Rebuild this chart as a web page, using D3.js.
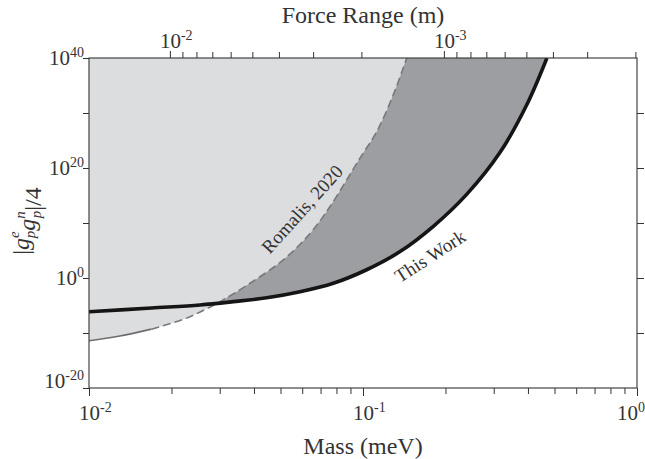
<!DOCTYPE html>
<html lang="en">
<head>
<meta charset="UTF-8">
<title>Force range vs mass</title>
<script src="https://d3js.org/d3.v7.min.js"></script>
<style>
  body { margin: 0; background: #fff; }
  text { font-family: "Liberation Serif", "Times New Roman", serif; fill: #333; }
  .axis path, .axis line { stroke: #333; }
</style>
</head>
<body>
<div id="chart"></div>
<script>
// mass (meV) and log10(|gp^e gp^n|/4)
var massThis = [0.01, 0.0169, 0.0254, 0.0336, 0.0445, 0.0589, 0.0779, 0.1031, 0.1365, 0.1806, 0.239, 0.316, 0.396, 0.469];
var logThis = [-6.15, -5.45, -4.9, -4.3, -3.6, -2.5, -0.96, 1.5, 4.8, 9.4, 15.2, 22.8, 31.5, 40];

var massRomalis = [0.01, 0.0128, 0.0169, 0.0224, 0.0269, 0.0301, 0.0387, 0.0512, 0.0641, 0.0758, 0.0975, 0.1122, 0.129, 0.1444];
var logRomalis = [-11.4, -10.6, -9.3, -7.4, -5.6, -4.3, -0.96, 3.3, 8.1, 13, 21.8, 26.6, 33.3, 40];

// tick labels
var massTicks = [0.01, 0.1, 1];
var massExp = ["-2", "-1", "0"];
var couplingTicks = [1e-20, 1, 1e20, 1e40];
var couplingExp = ["-20", "0", "20", "40"];
var couplingMinor = [1e-10, 1e10, 1e30];
var rangeTicks = [1e-2, 1e-3];
var rangeExp = ["-2", "-3"];

var hbarc = 1.97327e-4; // lambda (m) = hbarc / mass (meV)
var solidUntil = 0.0169; // Romalis line is solid up to here, dashed after

var width = 645, height = 459;
var margin = { top: 58, right: 8, bottom: 71, left: 89 };
var W = width - margin.left - margin.right;
var H = height - margin.top - margin.bottom;

var svg = d3.select("#chart").append("svg")
    .attr("width", width)
    .attr("height", height);

var g = svg.append("g").attr("transform", "translate(" + margin.left + "," + margin.top + ")");

var x = d3.scaleLog().domain([0.01, 1]).range([0, W]);
var y = d3.scaleLog().domain([1e-20, 1e40]).range([H, 0]);
var xTop = d3.scaleLog().domain([hbarc / 0.01, hbarc / 1]).range([0, W]);

g.append("clipPath").attr("id", "plot")
    .append("rect").attr("width", W).attr("height", H);

function pts(ms, vs) {
    return ms.map(function (m, i) { return { m: m, v: vs[i] }; });
}
var thisWork = pts(massThis, logThis);
var romalis = pts(massRomalis, logRomalis);

var curve = d3.curveCatmullRom.alpha(0.5);

var area = d3.area()
    .x(function (d) { return x(d.m); })
    .y0(0)
    .y1(function (d) { return y(Math.pow(10, d.v)); })
    .curve(curve);

var line = d3.line()
    .x(function (d) { return x(d.m); })
    .y(function (d) { return y(Math.pow(10, d.v)); })
    .curve(curve);

var plot = g.append("g").attr("clip-path", "url(#plot)");

// excluded by this work (dark), then excluded by Romalis (light) on top
plot.append("path").datum(thisWork).attr("d", area).attr("fill", "#9d9ea2");
plot.append("path").datum(romalis).attr("d", area).attr("fill", "#dcdddf");

plot.append("path")
    .datum(romalis.filter(function (d) { return d.m <= solidUntil; }))
    .attr("d", line)
    .attr("fill", "none")
    .attr("stroke", "#6e6e70")
    .attr("stroke-width", 1.6);

plot.append("path")
    .datum(romalis.filter(function (d) { return d.m >= solidUntil; }))
    .attr("d", line)
    .attr("fill", "none")
    .attr("stroke", "#77787a")
    .attr("stroke-width", 1.6)
    .attr("stroke-dasharray", "8,4");

plot.append("path").datum(thisWork).attr("d", line)
    .attr("fill", "none")
    .attr("stroke", "#151515")
    .attr("stroke-width", 3.6);

// minor ticks
var massMinor = [];
[0.01, 0.1].forEach(function (d) { for (var k = 2; k < 10; k++) massMinor.push(d * k); });
var rangeMinor = [];
[1e-3, 1e-4].forEach(function (d) { for (var k = 2; k < 10; k++) rangeMinor.push(d * k); });

function axisGroup(axis, tr) {
    var a = g.append("g").attr("class", "axis");
    if (tr) a.attr("transform", tr);
    a.call(axis);
    a.selectAll("path").remove();
    a.selectAll("text").remove();
    return a;
}

// bottom
axisGroup(d3.axisBottom(x).tickValues(massTicks).tickSize(8), "translate(0," + H + ")");
axisGroup(d3.axisBottom(x).tickValues(massMinor).tickSize(6), "translate(0," + H + ")");
// top
axisGroup(d3.axisTop(xTop).tickValues(rangeTicks).tickSize(7));
axisGroup(d3.axisTop(xTop).tickValues(rangeMinor).tickSize(6));
// left
axisGroup(d3.axisLeft(y).tickValues(couplingTicks.concat(couplingMinor)).tickSize(6));
// right (inward)
axisGroup(d3.axisLeft(y).tickValues(couplingTicks.concat(couplingMinor).filter(function (v) { return v > 1e-20 && v < 1e40; })).tickSize(-7), "translate(" + W + ",0)");

// frame
g.append("rect").attr("width", W).attr("height", H)
    .attr("fill", "none").attr("stroke", "#333").attr("stroke-width", 1.1);

function power(sel, exp) {
    sel.append("tspan").text("10");
    sel.append("tspan").attr("font-size", 14).attr("dy", -8).text(exp);
}

// tick labels
massTicks.forEach(function (m, i) {
    var t = g.append("text").attr("y", H + 32).attr("font-size", 21);
    if (m === 1) t.attr("x", W + 8).attr("text-anchor", "end");
    else t.attr("x", x(m) - 10);
    power(t, massExp[i]);
});
rangeTicks.forEach(function (l, i) {
    var t = g.append("text").attr("x", xTop(l) - 10).attr("y", -10).attr("font-size", 21);
    power(t, rangeExp[i]);
});
couplingTicks.forEach(function (v, i) {
    var t = g.append("text").attr("x", -5).attr("y", y(v) + (v === 1e-20 ? 0 : 7))
        .attr("font-size", 21).attr("text-anchor", "end");
    power(t, couplingExp[i]);
});

// axis titles
svg.append("text").attr("x", margin.left + W / 2).attr("y", 23)
    .attr("text-anchor", "middle").attr("font-size", 24).text("Force Range (m)");
svg.append("text").attr("x", margin.left + W / 2).attr("y", 454)
    .attr("text-anchor", "middle").attr("font-size", 24).text("Mass (meV)");

var yt = svg.append("text")
    .attr("transform", "translate(29,221) rotate(-90)")
    .attr("text-anchor", "middle")
    .attr("font-size", 24);
yt.append("tspan").text("|");
["e", "n"].forEach(function (s) {
    yt.append("tspan").attr("font-style", "italic").text("g");
    yt.append("tspan").attr("font-style", "italic").attr("font-size", 15).attr("dy", -10).text(s);
    yt.append("tspan").attr("font-style", "italic").attr("font-size", 15).attr("dx", -7).attr("dy", 16).text("p");
    yt.append("tspan").attr("dy", -6).text("");
});
yt.append("tspan").text("|/4");

// curve labels
g.append("text")
    .attr("transform", "translate(" + (302 - margin.left) + "," + (209 - margin.top) + ") rotate(-48)")
    .attr("text-anchor", "middle").attr("dy", "0.35em").attr("font-size", 19)
    .text("Romalis, 2020");
g.append("text")
    .attr("transform", "translate(" + (430 - margin.left) + "," + (256 - margin.top) + ") rotate(-33)")
    .attr("text-anchor", "middle").attr("dy", "0.35em").attr("font-size", 19)
    .text("This Work");
</script>
</body>
</html>
